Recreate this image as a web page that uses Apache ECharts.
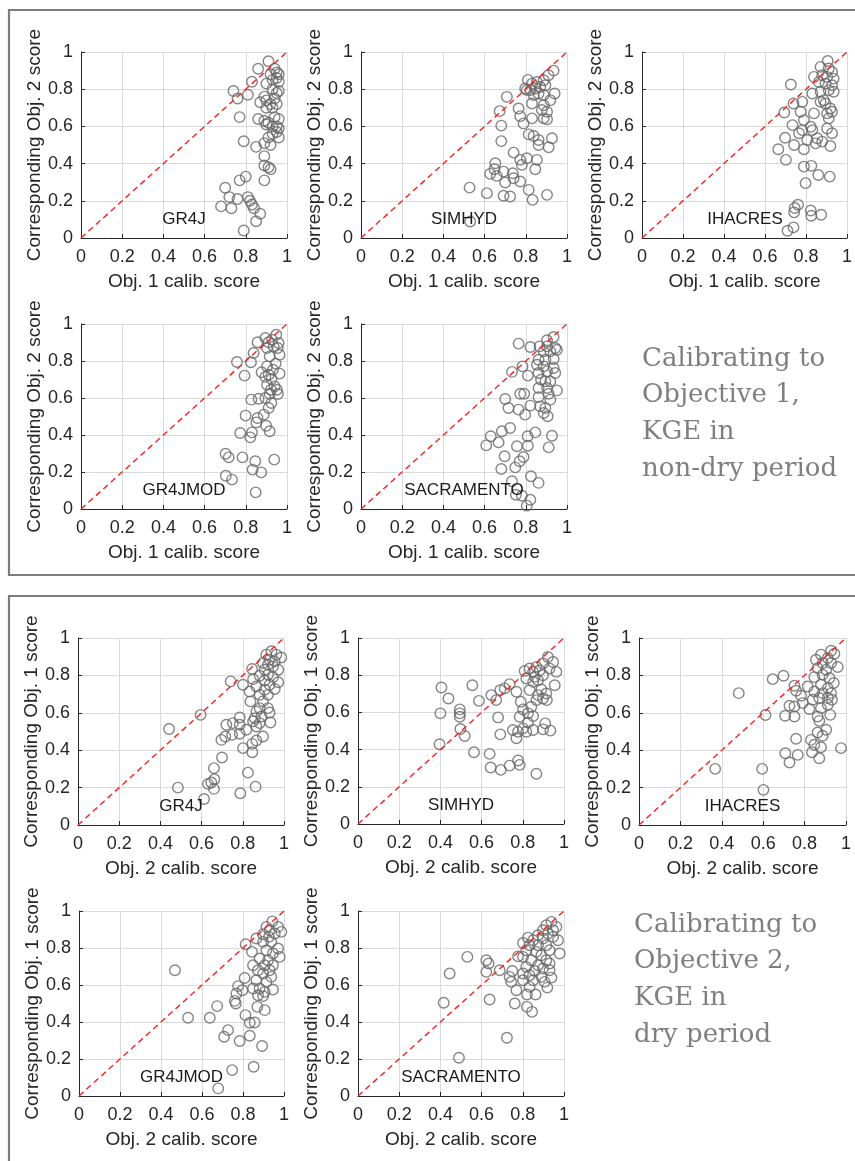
<!DOCTYPE html>
<html>
<head>
<meta charset="utf-8">
<script src="https://cdn.jsdelivr.net/npm/echarts@6/dist/echarts.min.js"></script>
<style>html,body{margin:0;padding:0;background:#fff}#c{width:855px;height:1161px}</style>
</head>
<body>
<div id="c"></div>
<script>
// ---------------- data ----------------
const models = ['GR4J', 'SIMHYD', 'IHACRES', 'GR4JMOD', 'SACRAMENTO'];
const tickValues = [0, 0.2, 0.4, 0.6, 0.8, 1];
const tickLabels = ['0', '0.2', '0.4', '0.6', '0.8', '1'];
const xNameObj1 = 'Obj. 1 calib. score';
const yNameObj1 = 'Corresponding Obj. 2 score';
const xNameObj2 = 'Obj. 2 calib. score';
const yNameObj2 = 'Corresponding Obj. 1 score';
const noteObj1 = ['Calibrating to', 'Objective 1,', 'KGE in', 'non-dry period'];
const noteObj2 = ['Calibrating to', 'Objective 2,', 'KGE in', 'dry period'];
const diagonal = [[0, 0], [1, 1]];

// Calibrating to Objective 1 (x: Obj.1 calib score, y: corresponding Obj.2 score)
const gr4j_obj1 = [[0.91,0.95],[0.86,0.91],[0.94,0.91],[0.92,0.88],[0.95,0.89],[0.96,0.88],[0.95,0.86],[0.93,0.85],[0.96,0.84],[0.90,0.83],[0.83,0.84],[0.74,0.79],[0.96,0.79],[0.93,0.80],[0.95,0.78],[0.89,0.76],[0.81,0.77],[0.76,0.75],[0.90,0.74],[0.94,0.75],[0.87,0.73],[0.92,0.72],[0.95,0.72],[0.90,0.70],[0.93,0.70],[0.77,0.65],[0.86,0.64],[0.89,0.63],[0.91,0.62],[0.94,0.65],[0.96,0.64],[0.90,0.61],[0.93,0.60],[0.95,0.60],[0.96,0.59],[0.95,0.57],[0.93,0.56],[0.96,0.54],[0.91,0.54],[0.79,0.52],[0.85,0.49],[0.89,0.51],[0.92,0.50],[0.89,0.44],[0.89,0.39],[0.91,0.38],[0.92,0.37],[0.89,0.31],[0.80,0.33],[0.77,0.31],[0.70,0.27],[0.72,0.22],[0.81,0.22],[0.82,0.20],[0.83,0.18],[0.76,0.21],[0.68,0.17],[0.73,0.16],[0.84,0.16],[0.87,0.13],[0.85,0.09],[0.79,0.04]];
const simhyd_obj1 = [[0.81,0.85],[0.935,0.90],[0.91,0.875],[0.887,0.848],[0.854,0.839],[0.83,0.83],[0.797,0.804],[0.822,0.795],[0.846,0.804],[0.87,0.812],[0.895,0.821],[0.862,0.777],[0.838,0.768],[0.887,0.768],[0.94,0.777],[0.708,0.759],[0.805,0.795],[0.919,0.741],[0.887,0.714],[0.83,0.723],[0.878,0.688],[0.903,0.679],[0.765,0.696],[0.673,0.682],[0.773,0.655],[0.789,0.616],[0.83,0.643],[0.887,0.643],[0.903,0.638],[0.681,0.604],[0.814,0.557],[0.838,0.548],[0.862,0.527],[0.862,0.50],[0.927,0.536],[0.911,0.488],[0.681,0.521],[0.741,0.459],[0.773,0.42],[0.805,0.429],[0.854,0.42],[0.781,0.393],[0.652,0.402],[0.648,0.37],[0.692,0.357],[0.627,0.345],[0.659,0.334],[0.737,0.348],[0.741,0.321],[0.773,0.304],[0.846,0.37],[0.70,0.298],[0.692,0.227],[0.724,0.223],[0.611,0.241],[0.527,0.271],[0.814,0.259],[0.833,0.205],[0.903,0.232],[0.53,0.089]];
const ihacres_obj1 = [[0.906,0.952],[0.871,0.92],[0.911,0.911],[0.927,0.893],[0.839,0.866],[0.879,0.875],[0.903,0.866],[0.935,0.857],[0.863,0.839],[0.895,0.83],[0.927,0.821],[0.726,0.825],[0.831,0.777],[0.871,0.786],[0.911,0.795],[0.935,0.786],[0.887,0.741],[0.871,0.732],[0.895,0.723],[0.782,0.732],[0.739,0.723],[0.919,0.696],[0.927,0.679],[0.694,0.675],[0.774,0.679],[0.839,0.67],[0.903,0.67],[0.911,0.643],[0.79,0.634],[0.734,0.607],[0.823,0.598],[0.782,0.58],[0.831,0.58],[0.903,0.589],[0.927,0.563],[0.698,0.539],[0.766,0.563],[0.806,0.527],[0.855,0.536],[0.879,0.518],[0.847,0.509],[0.919,0.495],[0.742,0.50],[0.665,0.477],[0.79,0.477],[0.702,0.42],[0.79,0.384],[0.826,0.388],[0.86,0.339],[0.916,0.33],[0.798,0.295],[0.761,0.179],[0.745,0.161],[0.742,0.138],[0.823,0.148],[0.826,0.12],[0.874,0.125],[0.739,0.057],[0.71,0.039]];
const gr4jmod_obj1 = [[0.948,0.942],[0.895,0.924],[0.927,0.915],[0.857,0.901],[0.911,0.901],[0.959,0.897],[0.935,0.879],[0.955,0.87],[0.903,0.87],[0.838,0.843],[0.964,0.834],[0.916,0.825],[0.757,0.795],[0.825,0.793],[0.945,0.786],[0.903,0.771],[0.932,0.753],[0.877,0.739],[0.964,0.732],[0.794,0.721],[0.911,0.726],[0.895,0.714],[0.925,0.703],[0.903,0.672],[0.94,0.663],[0.922,0.645],[0.951,0.645],[0.916,0.623],[0.956,0.622],[0.827,0.591],[0.862,0.596],[0.895,0.60],[0.924,0.573],[0.911,0.546],[0.887,0.51],[0.799,0.505],[0.857,0.492],[0.851,0.468],[0.899,0.45],[0.916,0.42],[0.773,0.411],[0.83,0.414],[0.822,0.387],[0.702,0.299],[0.717,0.279],[0.784,0.279],[0.846,0.258],[0.938,0.267],[0.833,0.213],[0.875,0.198],[0.703,0.18],[0.733,0.159],[0.848,0.09]];
const sacramento_obj1 = [[0.935,0.93],[0.903,0.912],[0.765,0.894],[0.822,0.876],[0.867,0.879],[0.903,0.879],[0.943,0.87],[0.887,0.852],[0.919,0.852],[0.951,0.861],[0.862,0.807],[0.895,0.807],[0.935,0.811],[0.854,0.78],[0.887,0.771],[0.784,0.771],[0.733,0.741],[0.935,0.762],[0.943,0.735],[0.81,0.721],[0.862,0.735],[0.903,0.744],[0.874,0.699],[0.895,0.69],[0.919,0.69],[0.862,0.654],[0.903,0.654],[0.951,0.641],[0.773,0.623],[0.792,0.623],[0.70,0.595],[0.862,0.605],[0.919,0.591],[0.911,0.623],[0.822,0.559],[0.87,0.555],[0.895,0.546],[0.716,0.546],[0.765,0.537],[0.797,0.51],[0.906,0.501],[0.887,0.519],[0.846,0.414],[0.809,0.393],[0.927,0.396],[0.724,0.438],[0.684,0.42],[0.63,0.393],[0.608,0.344],[0.668,0.36],[0.757,0.339],[0.81,0.342],[0.911,0.333],[0.697,0.285],[0.789,0.281],[0.77,0.258],[0.749,0.225],[0.681,0.216],[0.825,0.177],[0.862,0.141],[0.733,0.15],[0.752,0.077],[0.781,0.072],[0.822,0.05],[0.805,0.018]];

// Calibrating to Objective 2 (x: Obj.2 calib score, y: corresponding Obj.1 score)
const gr4j_obj2 = [[0.939,0.929],[0.963,0.911],[0.987,0.896],[0.914,0.911],[0.93,0.884],[0.955,0.875],[0.898,0.866],[0.922,0.857],[0.947,0.848],[0.972,0.83],[0.845,0.834],[0.906,0.83],[0.882,0.798],[0.922,0.804],[0.947,0.791],[0.741,0.768],[0.801,0.75],[0.85,0.78],[0.906,0.773],[0.972,0.763],[0.866,0.741],[0.93,0.75],[0.955,0.727],[0.906,0.723],[0.833,0.714],[0.882,0.696],[0.922,0.696],[0.837,0.661],[0.898,0.661],[0.882,0.625],[0.922,0.625],[0.866,0.607],[0.93,0.602],[0.595,0.589],[0.785,0.575],[0.89,0.58],[0.858,0.571],[0.85,0.554],[0.882,0.545],[0.934,0.548],[0.752,0.545],[0.72,0.536],[0.785,0.536],[0.866,0.527],[0.442,0.513],[0.817,0.509],[0.748,0.482],[0.785,0.488],[0.715,0.473],[0.696,0.455],[0.898,0.473],[0.866,0.452],[0.846,0.434],[0.801,0.411],[0.846,0.389],[0.699,0.361],[0.66,0.304],[0.825,0.28],[0.662,0.245],[0.647,0.227],[0.631,0.22],[0.66,0.193],[0.862,0.205],[0.485,0.20],[0.788,0.17],[0.612,0.139]];
const simhyd_obj2 = [[0.922,0.898],[0.947,0.871],[0.898,0.863],[0.866,0.845],[0.833,0.836],[0.809,0.823],[0.85,0.818],[0.882,0.827],[0.93,0.836],[0.963,0.818],[0.817,0.782],[0.858,0.791],[0.898,0.80],[0.85,0.764],[0.874,0.773],[0.955,0.746],[0.405,0.734],[0.555,0.746],[0.736,0.752],[0.712,0.729],[0.691,0.72],[0.769,0.711],[0.833,0.72],[0.89,0.723],[0.914,0.702],[0.874,0.693],[0.898,0.675],[0.917,0.666],[0.866,0.666],[0.647,0.693],[0.671,0.666],[0.587,0.662],[0.439,0.675],[0.79,0.657],[0.841,0.63],[0.801,0.616],[0.825,0.595],[0.785,0.577],[0.494,0.616],[0.494,0.595],[0.494,0.577],[0.40,0.595],[0.68,0.573],[0.85,0.58],[0.909,0.541],[0.825,0.545],[0.801,0.514],[0.777,0.496],[0.752,0.505],[0.817,0.496],[0.85,0.505],[0.898,0.509],[0.934,0.502],[0.497,0.511],[0.518,0.473],[0.691,0.482],[0.769,0.461],[0.396,0.429],[0.563,0.386],[0.639,0.377],[0.777,0.341],[0.785,0.318],[0.736,0.314],[0.693,0.291],[0.644,0.304],[0.866,0.27]];
const ihacres_obj2 = [[0.928,0.932],[0.879,0.911],[0.944,0.916],[0.912,0.893],[0.855,0.884],[0.887,0.866],[0.928,0.866],[0.96,0.845],[0.863,0.839],[0.904,0.83],[0.847,0.791],[0.887,0.804],[0.92,0.786],[0.646,0.78],[0.698,0.798],[0.941,0.759],[0.751,0.745],[0.815,0.741],[0.879,0.75],[0.912,0.732],[0.759,0.718],[0.847,0.714],[0.482,0.705],[0.887,0.705],[0.928,0.705],[0.783,0.691],[0.871,0.679],[0.912,0.679],[0.932,0.67],[0.839,0.67],[0.791,0.652],[0.727,0.638],[0.751,0.634],[0.912,0.643],[0.823,0.62],[0.879,0.625],[0.706,0.584],[0.751,0.58],[0.611,0.588],[0.924,0.589],[0.863,0.58],[0.871,0.557],[0.904,0.509],[0.863,0.495],[0.887,0.477],[0.759,0.461],[0.831,0.455],[0.847,0.429],[0.879,0.416],[0.976,0.411],[0.836,0.389],[0.707,0.384],[0.767,0.375],[0.727,0.334],[0.871,0.357],[0.368,0.30],[0.595,0.30],[0.601,0.188]];
const gr4jmod_obj2 = [[0.943,0.944],[0.971,0.914],[0.987,0.887],[0.914,0.914],[0.93,0.896],[0.955,0.878],[0.898,0.874],[0.927,0.86],[0.865,0.851],[0.813,0.82],[0.898,0.833],[0.938,0.833],[0.971,0.797],[0.844,0.779],[0.914,0.788],[0.946,0.77],[0.979,0.752],[0.881,0.743],[0.922,0.734],[0.849,0.707],[0.906,0.707],[0.946,0.707],[0.873,0.68],[0.93,0.68],[0.468,0.68],[0.898,0.662],[0.938,0.644],[0.808,0.638],[0.865,0.626],[0.914,0.617],[0.776,0.594],[0.797,0.572],[0.849,0.581],[0.881,0.581],[0.946,0.576],[0.906,0.563],[0.768,0.554],[0.873,0.545],[0.898,0.54],[0.76,0.514],[0.765,0.50],[0.674,0.486],[0.87,0.482],[0.906,0.464],[0.532,0.423],[0.638,0.423],[0.812,0.437],[0.833,0.396],[0.857,0.397],[0.727,0.356],[0.708,0.32],[0.833,0.326],[0.784,0.297],[0.893,0.27],[0.852,0.158],[0.747,0.14],[0.679,0.041]];
const sacramento_obj2 = [[0.939,0.941],[0.914,0.923],[0.963,0.914],[0.947,0.896],[0.898,0.896],[0.922,0.878],[0.874,0.869],[0.825,0.856],[0.85,0.842],[0.898,0.851],[0.947,0.86],[0.971,0.842],[0.801,0.827],[0.833,0.815],[0.874,0.815],[0.914,0.815],[0.817,0.788],[0.866,0.779],[0.93,0.788],[0.979,0.77],[0.531,0.752],[0.777,0.755],[0.801,0.752],[0.89,0.761],[0.841,0.734],[0.914,0.734],[0.623,0.734],[0.634,0.716],[0.874,0.707],[0.93,0.716],[0.817,0.698],[0.898,0.689],[0.858,0.676],[0.93,0.68],[0.688,0.68],[0.445,0.662],[0.623,0.671],[0.749,0.676],[0.801,0.662],[0.833,0.653],[0.89,0.644],[0.939,0.64],[0.736,0.644],[0.801,0.626],[0.85,0.626],[0.744,0.617],[0.906,0.617],[0.833,0.59],[0.919,0.586],[0.769,0.572],[0.82,0.549],[0.862,0.549],[0.639,0.522],[0.416,0.504],[0.761,0.50],[0.82,0.482],[0.845,0.455],[0.723,0.315],[0.49,0.207]];

// ---------------- layout ----------------
const panels = [
  {l:81,  t:52,  w:206, h:186, data:gr4j_obj1,       model:0, obj:1},
  {l:361, t:52,  w:206, h:186, data:simhyd_obj1,     model:1, obj:1},
  {l:642, t:52,  w:206, h:186, data:ihacres_obj1,    model:2, obj:1},
  {l:81,  t:324, w:206, h:185, data:gr4jmod_obj1,    model:3, obj:1},
  {l:361, t:324, w:206, h:185, data:sacramento_obj1, model:4, obj:1},
  {l:78,  t:638, w:206, h:187, data:gr4j_obj2,       model:0, obj:2},
  {l:358, t:638, w:206, h:186, data:simhyd_obj2,     model:1, obj:2},
  {l:639, t:638, w:207, h:187, data:ihacres_obj2,    model:2, obj:2},
  {l:79,  t:911, w:205, h:185, data:gr4jmod_obj2,    model:3, obj:2},
  {l:358, t:911, w:206, h:185, data:sacramento_obj2, model:4, obj:2}
];

const FONT = '"Liberation Sans", Arial, sans-serif';
const AX = '#262626';
const grids = [], xAxes = [], yAxes = [], series = [], graphics = [];

function tickFmt(v) {
  const i = tickValues.findIndex(t => Math.abs(t - v) < 1e-6);
  return i >= 0 ? tickLabels[i] : '';
}

panels.forEach((p, i) => {
  grids.push({left: p.l, top: p.t, width: p.w, height: p.h});
  const common = {
    type: 'value', gridIndex: i, min: 0, max: 1, interval: 0.2,
    axisLine: {show: true, onZero: false, lineStyle: {color: AX, width: 1}},
    axisTick: {show: true, inside: true, length: 4, lineStyle: {color: AX}},
    splitLine: {show: true, lineStyle: {color: '#dadada', width: 1}},
    nameLocation: 'middle',
    nameTextStyle: {fontSize: 19, color: AX, fontFamily: FONT}
  };
  xAxes.push(Object.assign({}, common, {
    name: p.obj === 1 ? xNameObj1 : xNameObj2,
    nameGap: 34,
    axisLabel: {formatter: tickFmt, fontSize: 18, color: AX, fontFamily: FONT, margin: 10}
  }));
  yAxes.push(Object.assign({}, common, {
    name: p.obj === 1 ? yNameObj1 : yNameObj2,
    nameGap: 37,
    axisLabel: {formatter: tickFmt, fontSize: 18, color: AX, fontFamily: FONT, margin: 8}
  }));
  series.push({
    type: 'scatter', xAxisIndex: i, yAxisIndex: i, data: p.data,
    symbol: 'circle', symbolSize: 10.5, silent: true, z: 3,
    itemStyle: {color: 'rgba(0,0,0,0)', borderColor: '#666666', borderWidth: 1.4}
  });
  series.push({
    type: 'line', xAxisIndex: i, yAxisIndex: i, data: diagonal,
    symbol: 'none', silent: true, z: 4,
    lineStyle: {color: '#ff2020', width: 1.4, type: [6, 4]}
  });
  graphics.push({
    type: 'text', z: 10,
    x: p.l + 0.5 * p.w, y: p.t + 0.9 * p.h,
    style: {text: models[p.model], font: '17px ' + FONT, fill: '#1a1a1a',
            align: 'center', verticalAlign: 'middle'}
  });
});

// frames
graphics.push({type: 'rect', z: 0, shape: {x: 9, y: 10, width: 870, height: 565},
  style: {fill: 'none', stroke: '#7c7c7c', lineWidth: 2.2}});
graphics.push({type: 'rect', z: 0, shape: {x: 9, y: 596, width: 870, height: 590},
  style: {fill: 'none', stroke: '#7c7c7c', lineWidth: 2.2}});

// annotations
function addNote(lines, x, y0) {
  lines.forEach((s, k) => {
    graphics.push({type: 'text', z: 10, x: x, y: y0 + k * 36.7,
      style: {text: s, font: '26px "DejaVu Serif", serif', fill: '#7f7f7f',
              align: 'left', verticalAlign: 'middle'}});
  });
}
addNote(noteObj1, 642, 359);
addNote(noteObj2, 634, 925);

const chart = echarts.init(document.getElementById('c'), null, {renderer: 'canvas'});
chart.setOption({
  animation: false,
  backgroundColor: '#ffffff',
  grid: grids, xAxis: xAxes, yAxis: yAxes, series: series,
  graphic: graphics
});
</script>
</body>
</html>
